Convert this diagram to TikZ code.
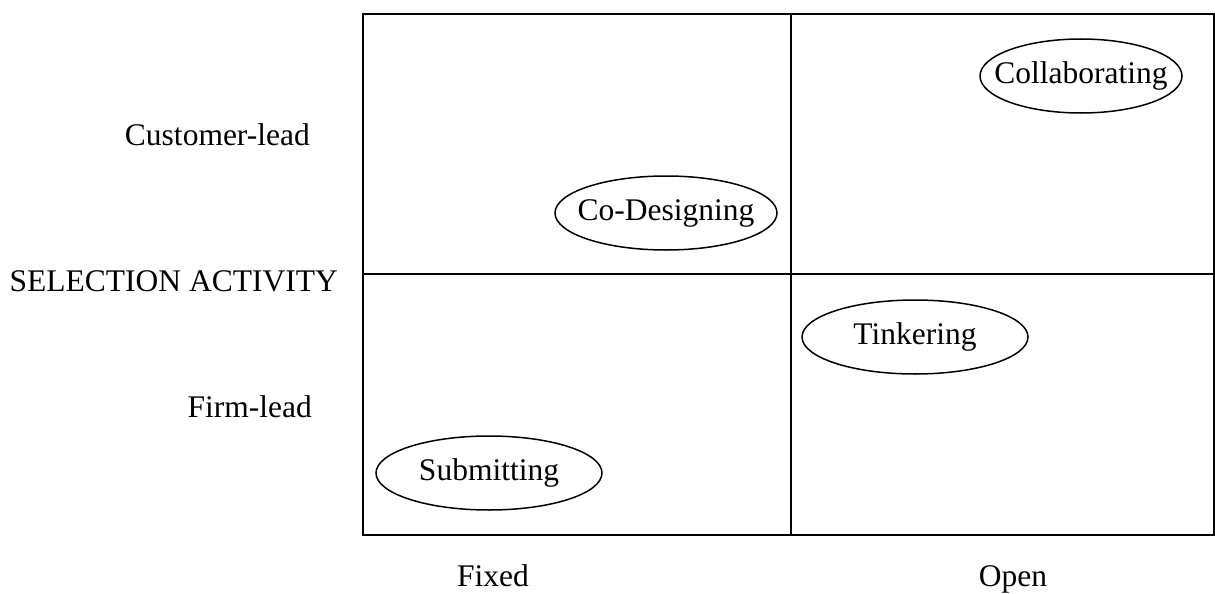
\documentclass[tikz,border=0pt]{standalone}
\usepackage{fontspec}
\setmainfont{Liberation Serif}
\begin{document}
\begin{tikzpicture}[x=1pt,y=-1pt,
  lbl/.style={font=\fontsize{31.5}{36}\selectfont, inner sep=0pt},
  oval/.style={line width=1.5pt},
  grid/.style={line width=2pt}]
\useasboundingbox (0,0) rectangle (1215,594);
\coordinate (tl) at (362.5,14);
\coordinate (br) at (1214,534.5);
\coordinate (mt) at (791,14);
\coordinate (mb) at (791,534.5);
\coordinate (ml) at (362.5,273.5);
\coordinate (mr) at (1214,273.5);
\draw[grid] (tl) rectangle (br);
\draw[grid] (mt) -- (mb);
\draw[grid] (ml) -- (mr);
\node[lbl] (collab) at (1081,76) {Collaborating};
\node[lbl] (codes) at (666,213) {Co-Designing};
\node[lbl] (tink) at (915,337) {Tinkering};
\node[lbl] (subm) at (489,473) {Submitting};
\draw[oval] (collab.center) ellipse [x radius=101, y radius=37];
\draw[oval] (codes.center) ellipse [x radius=111, y radius=37];
\draw[oval] (tink.center) ellipse [x radius=113, y radius=37];
\draw[oval] (subm.center) ellipse [x radius=113, y radius=37];
\node[lbl, anchor=base east] (cust) at (310,145) {Customer-lead};
\node[lbl, anchor=base east] (sel) at (338,291) {SELECTION ACTIVITY};
\node[lbl, anchor=base east] (firm) at (312,417) {Firm-lead};
\node[lbl, anchor=base] (fixed) at (493,586) {Fixed};
\node[lbl, anchor=base] (open) at (1013,586) {Open};
\end{tikzpicture}
\end{document}
